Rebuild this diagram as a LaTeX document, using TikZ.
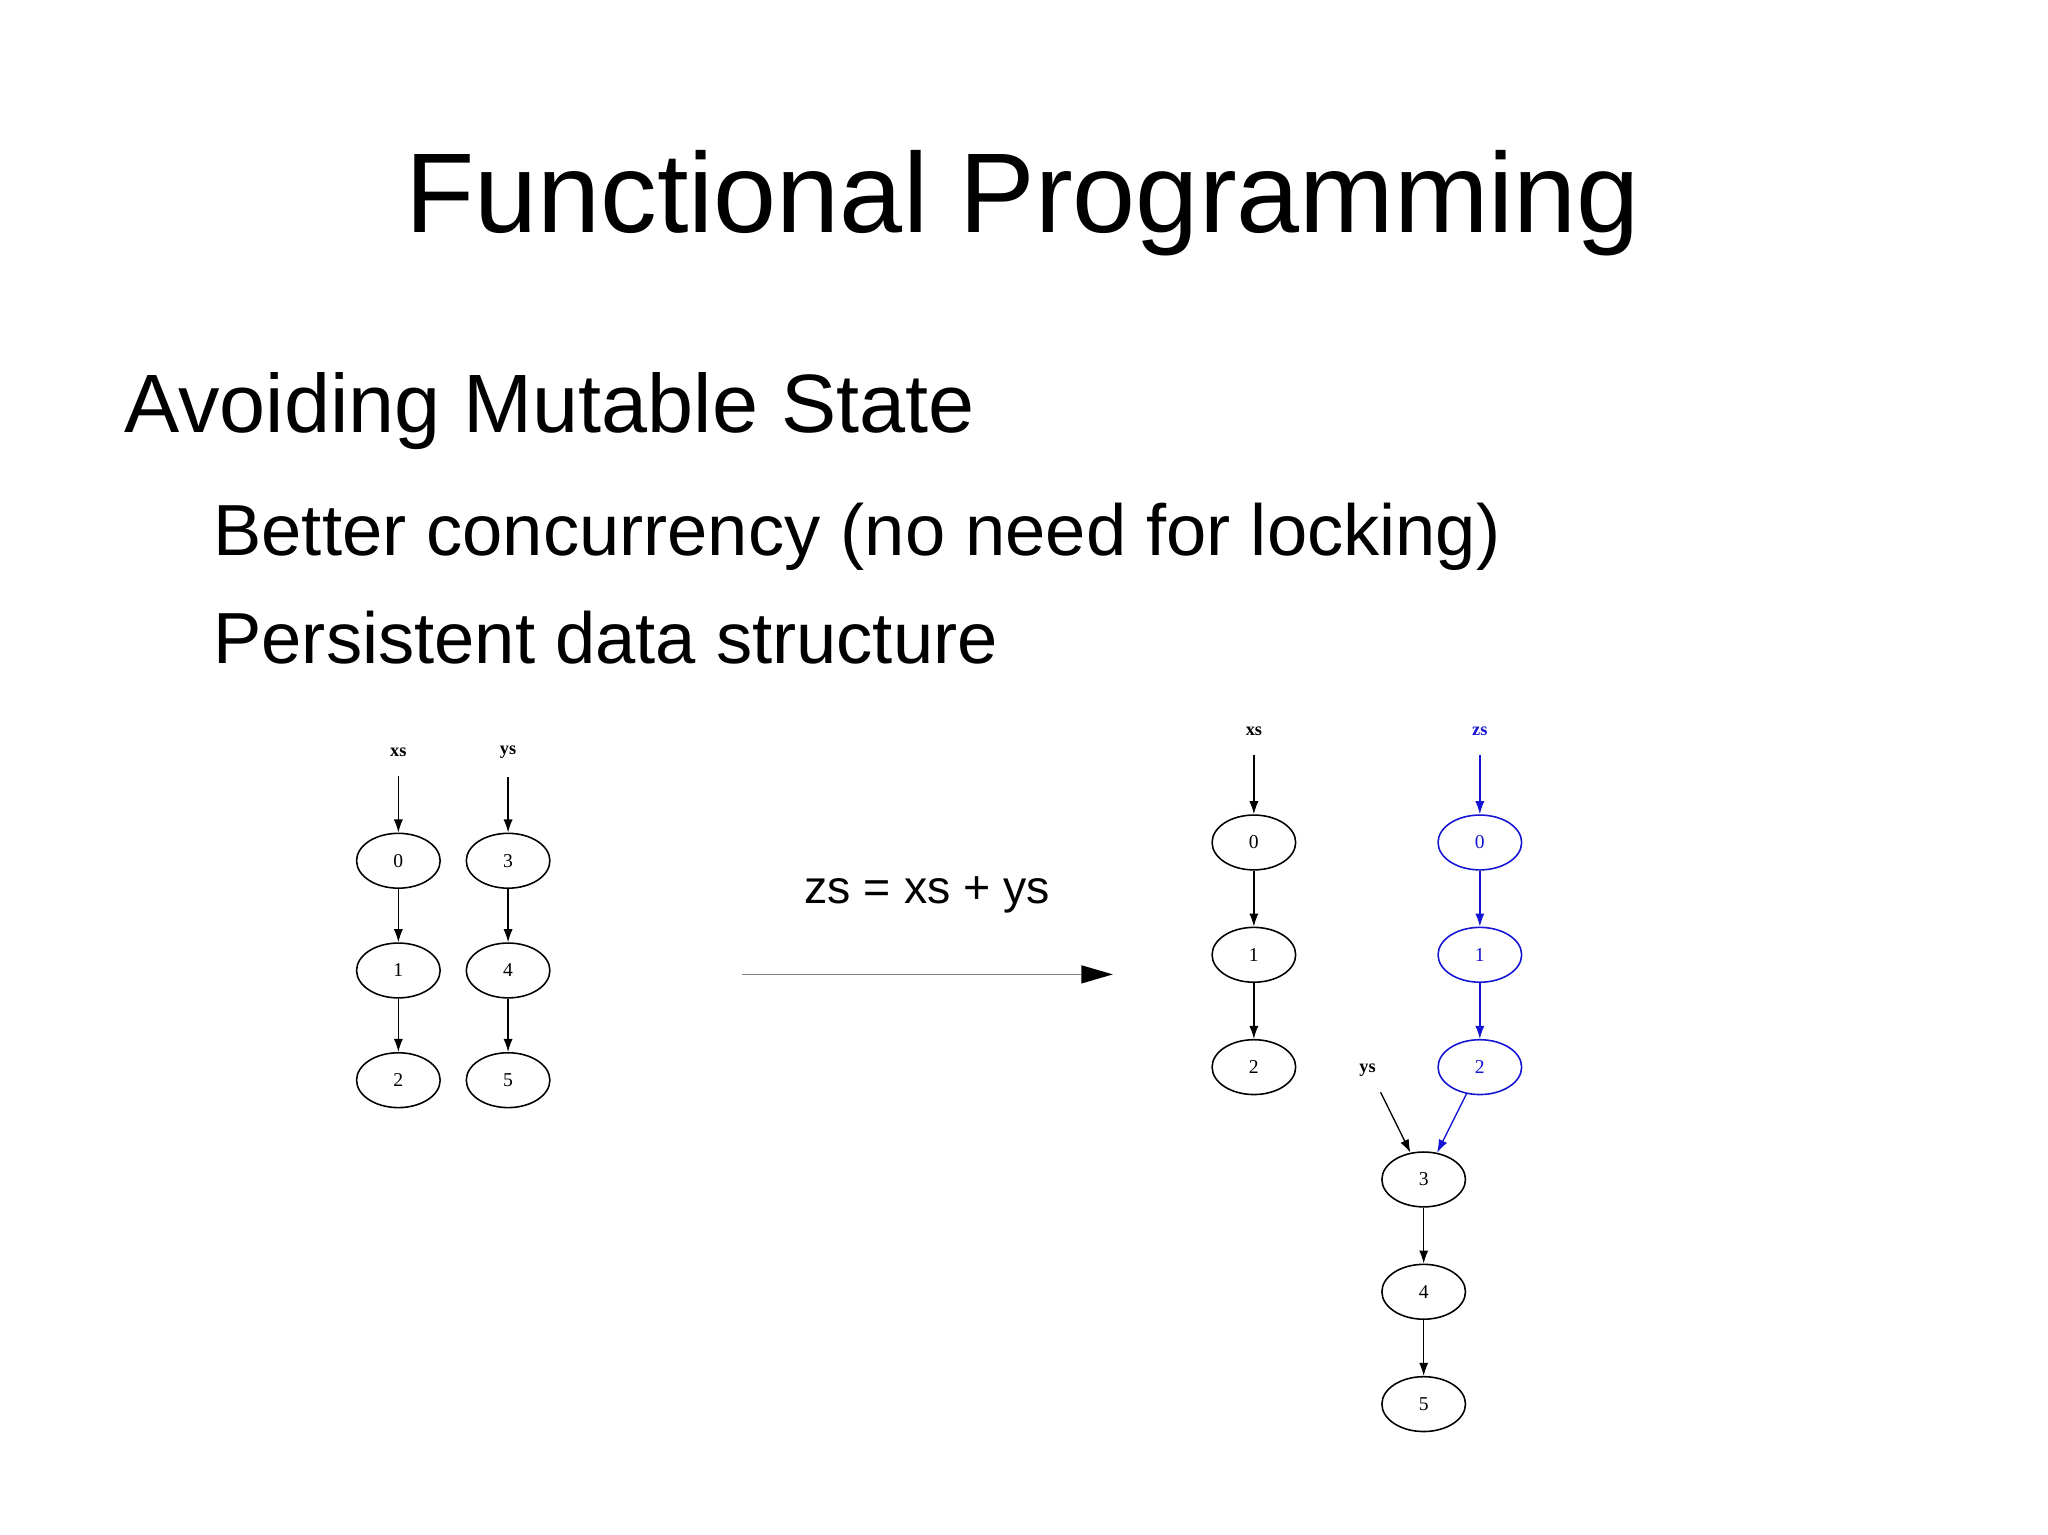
\documentclass[tikz,border=0pt]{standalone}
\usepackage{fontspec}
\setmainfont{Liberation Sans}
\newfontfamily\gv{Liberation Serif}
\usetikzlibrary{arrows.meta,shapes.geometric}
\definecolor{gvblue}{RGB}{20,20,210}
\begin{document}
\begin{tikzpicture}[x=0.5pt,y=-0.5pt,
  gn/.style={draw,ellipse,minimum width=32pt,minimum height=21pt,inner sep=0pt,font=\gv\fontsize{7.5}{8}\selectfont,line width=0.6pt},
  gl/.style={font=\gv\bfseries\fontsize{7}{8}\selectfont,inner sep=1pt},
  ga/.style={-{Latex[length=5pt,width=3.5pt]},line width=0.5pt},
  bl/.style={gvblue,text=gvblue}]
\useasboundingbox (0,0) rectangle (1568,1175);
\fill[white] (0,0) rectangle (1568,1175);
\node[font=\fontsize{43.4}{46}\selectfont,anchor=base] (title) at (783,178) {Functional Programming};
\node[font=\fontsize{31.7}{34}\selectfont,anchor=base west,inner sep=0] (h1) at (95,331) {Avoiding Mutable State};
\node[font=\fontsize{27.7}{29}\selectfont,anchor=base west,inner sep=0] (b1) at (163,425) {Better concurrency (no need for locking)};
\node[font=\fontsize{27.7}{29}\selectfont,anchor=base west,inner sep=0] (b2) at (163,508) {Persistent data structure};
% left graph
\node[gl] (lxs) at (305,576) {xs};
\node[gl] (lys) at (389,576) {ys};
\node[gn] (l0) at (305,659) {0};
\node[gn] (l1) at (305,743) {1};
\node[gn] (l2) at (305,827) {2};
\node[gn] (l3) at (389,659) {3};
\node[gn] (l4) at (389,743) {4};
\node[gn] (l5) at (389,827) {5};
\draw[ga] (lxs.south) ++(0,12) -- (l0);
\draw[ga] (lys.south) ++(0,12) -- (l3);
\draw[ga] (l0) -- (l1); \draw[ga] (l1) -- (l2);
\draw[ga] (l3) -- (l4); \draw[ga] (l4) -- (l5);
% middle
\node[font=\fontsize{17.8}{19}\selectfont] (op) at (710,685) {zs = xs + ys};
\coordinate (as) at (568,746); \coordinate (ae) at (852,746);
\draw[gray,line width=0.5pt] (as) -- (828,746);
\fill (828,739) -- (ae) -- (828,753) -- cycle;
% right graph
\node[gl] (rxs) at (960,560) {xs};
\node[gl,bl] (rzs) at (1133,560) {zs};
\node[gn] (r0) at (960,645) {0};
\node[gn] (r1) at (960,731) {1};
\node[gn] (r2) at (960,817) {2};
\node[gn,bl] (z0) at (1133,645) {0};
\node[gn,bl] (z1) at (1133,731) {1};
\node[gn,bl] (z2) at (1133,817) {2};
\node[gl] (rys) at (1047,819) {ys};
\node[gn] (r3) at (1090,903) {3};
\node[gn] (r4) at (1090,989) {4};
\node[gn] (r5) at (1090,1075) {5};
\draw[ga] (rxs.south) ++(0,12) -- (r0);
\draw[ga,gvblue] (rzs.south) ++(0,12) -- (z0);
\draw[ga] (r0) -- (r1); \draw[ga] (r1) -- (r2);
\draw[ga,gvblue] (z0) -- (z1); \draw[ga,gvblue] (z1) -- (z2);
\draw[ga,gvblue] (z2) -- (r3);
\draw[ga] (rys.south) ++(10,10) -- (r3);
\draw[ga] (r3) -- (r4); \draw[ga] (r4) -- (r5);
\end{tikzpicture}
\end{document}
